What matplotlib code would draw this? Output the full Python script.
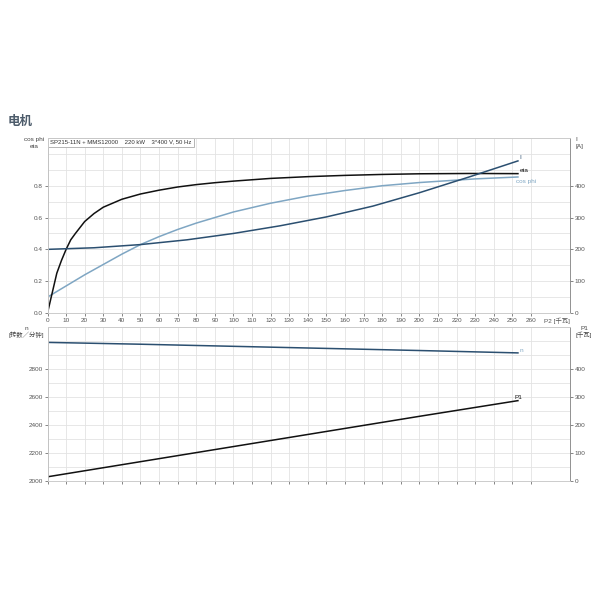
import matplotlib
matplotlib.use("Agg")
import matplotlib.pyplot as plt
import numpy as np

plt.rcParams['font.family'] = ['Liberation Sans', 'Noto Sans CJK SC']

# data (P2 in kW)
p2_eta = [0, 1, 2, 3, 5, 7.5, 10, 12.5, 15, 20, 25, 30, 40, 50, 60, 70, 80, 90, 100,
          120, 140, 160, 180, 200, 227, 253]
eta = [0, 0.05, 0.10, 0.15, 0.25, 0.33, 0.40, 0.46, 0.50, 0.575, 0.625, 0.665, 0.715,
       0.748, 0.772, 0.792, 0.807, 0.819, 0.829, 0.846, 0.857, 0.865, 0.871, 0.875,
       0.877, 0.876]

p2_cos = [0, 10, 20, 30, 40, 50, 60, 70, 80, 90, 100, 120, 140, 160, 180, 200, 230, 253]
cosphi = [0.10, 0.17, 0.24, 0.305, 0.37, 0.43, 0.48, 0.525, 0.565, 0.60, 0.635, 0.69,
          0.735, 0.77, 0.80, 0.82, 0.843, 0.855]

p2_i = [0, 25, 50, 75, 100, 125, 150, 175, 200, 227, 253]
current = [200, 205, 215, 230, 250, 274, 302, 336, 378, 428, 478]

p2_n = [0, 50, 100, 150, 200, 253]
speed = [2990, 2977, 2962, 2947, 2932, 2915]

p2_p1 = [0, 50, 100, 150, 200, 253]
p1 = [15, 69, 123, 177, 231, 287]

xticks = list(range(0, 261, 10))
xlabel_pos = 274
title_text = "SP215-11N + MMS12000    220 kW    3*400 V, 50 Hz"

c_eta = '#111111'
c_i = '#2b4f70'
c_cos = '#7fa6c3'
grid_c = '#e3e3e3'
spine_c = '#888888'
fs = 4.6
cjk = ['Liberation Sans', 'Noto Sans CJK SC']

fig = plt.figure(figsize=(6, 6), dpi=100)
fig.text(8/600, 1-121/600, "电机", fontsize=9, fontweight='bold', color='#4d5c6b',
         family=['Noto Sans CJK SC'], va='center', ha='left')

def style(ax, axr):
    for a in (ax, axr):
        for s in a.spines.values():
            s.set_color('#cccccc')
            s.set_linewidth(0.6)
    ax.spines['left'].set_color(spine_c)
    axr.spines['right'].set_color(spine_c)
    ax.tick_params(labelsize=fs, length=2, width=0.5, colors='#555555', pad=1.5)
    axr.tick_params(labelsize=fs, length=2, width=0.5, colors='#555555', pad=1.5)

# top panel
ax1 = fig.add_axes([47.5/600, 1-313/600, 522.5/600, 175/600])
ax1r = ax1.twinx()
ax1.set_xlim(0, 281)
ax1.set_ylim(0, 1.1)
ax1r.set_ylim(0, 550)
ax1.set_xticks(xticks + [xlabel_pos])
ax1.set_xticklabels([str(t) for t in xticks] + ["P2 [千瓦]"], family=cjk)
ax1.set_yticks(np.arange(0, 0.81, 0.2))
ax1.set_yticklabels(['0.0', '0.2', '0.4', '0.6', '0.8'])
ax1.set_yticks(np.arange(0, 1.11, 0.1), minor=True)
ax1.tick_params(axis='y', which='minor', length=0)
ax1r.set_yticks([0, 100, 200, 300, 400])
style(ax1, ax1r)
ax1.xaxis.get_major_ticks()[-1].tick1line.set_visible(False)
ax1.xaxis.get_major_ticks()[-1].gridline.set_visible(False)
ax1.grid(True, which='both', color=grid_c, lw=0.6)
ax1.xaxis.get_major_ticks()[-1].gridline.set_visible(False)
ax1.set_axisbelow(True)

ax1.plot(p2_cos, cosphi, color=c_cos, lw=1.1)
ax1.plot(p2_eta, eta, color=c_eta, lw=1.1)
ax1r.plot(p2_i, current, color=c_i, lw=1.1)
ax1.text(254, 0.965, "I", color=c_i, fontsize=fs)
ax1.text(254, 0.887, "eta", color=c_eta, fontsize=fs)
ax1.text(252, 0.82, "cos phi", color=c_cos, fontsize=fs)
ax1.text(0.005, 0.99, title_text, transform=ax1.transAxes, fontsize=4.3, va='top', ha='left',
         color='#333333',
         bbox=dict(boxstyle='square,pad=0.35', fc='white', ec='#aaaaaa', lw=0.6))
fig.text(44/600, 1-143/600, "cos phi\neta", fontsize=fs, ha='right', va='center',
         color='#444444', linespacing=1.3, multialignment='center')
fig.text(575/600, 1-143/600, "I\n[A]", fontsize=fs, ha='left', va='center',
         color='#444444', linespacing=1.3)

# bottom panel
ax2 = fig.add_axes([47.5/600, 1-481/600, 522.5/600, 154/600])
ax2r = ax2.twinx()
ax2.set_xlim(0, 281)
ax2.set_ylim(2000, 3100)
ax2r.set_ylim(0, 550)
ax2.set_xticks(xticks)
ax2.tick_params(axis='x', length=0, labelbottom=False)
ax2.set_yticks([2000, 2200, 2400, 2600, 2800])
ax2.set_yticks(np.arange(2000, 3101, 100), minor=True)
ax2.tick_params(axis='y', which='minor', length=0)
ax2r.set_yticks([0, 100, 200, 300, 400])
ax2.grid(True, which='both', color=grid_c, lw=0.6)
ax2.set_axisbelow(True)
style(ax2, ax2r)

ax2.plot(p2_n, speed, color=c_i, lw=1.1)
ax2r.plot(p2_p1, p1, color=c_eta, lw=1.1)
ax2.text(254, speed[-1] + 8, "n", color=c_cos, fontsize=fs)
ax2r.text(251, p1[-1] + 6, "P1", color=c_eta, fontsize=fs)
fig.text(44/600, 1-332/600, "n\n[转数／分钟]", fontsize=fs, ha='right', va='center',
         color='#444444', linespacing=1.2, multialignment='center', family=cjk)
fig.text(576/600, 1-332/600, "P1\n[千瓦]", fontsize=fs, ha='left', va='center',
         color='#444444', linespacing=1.2, multialignment='center', family=cjk)

fig.savefig("out.png", dpi=100)
